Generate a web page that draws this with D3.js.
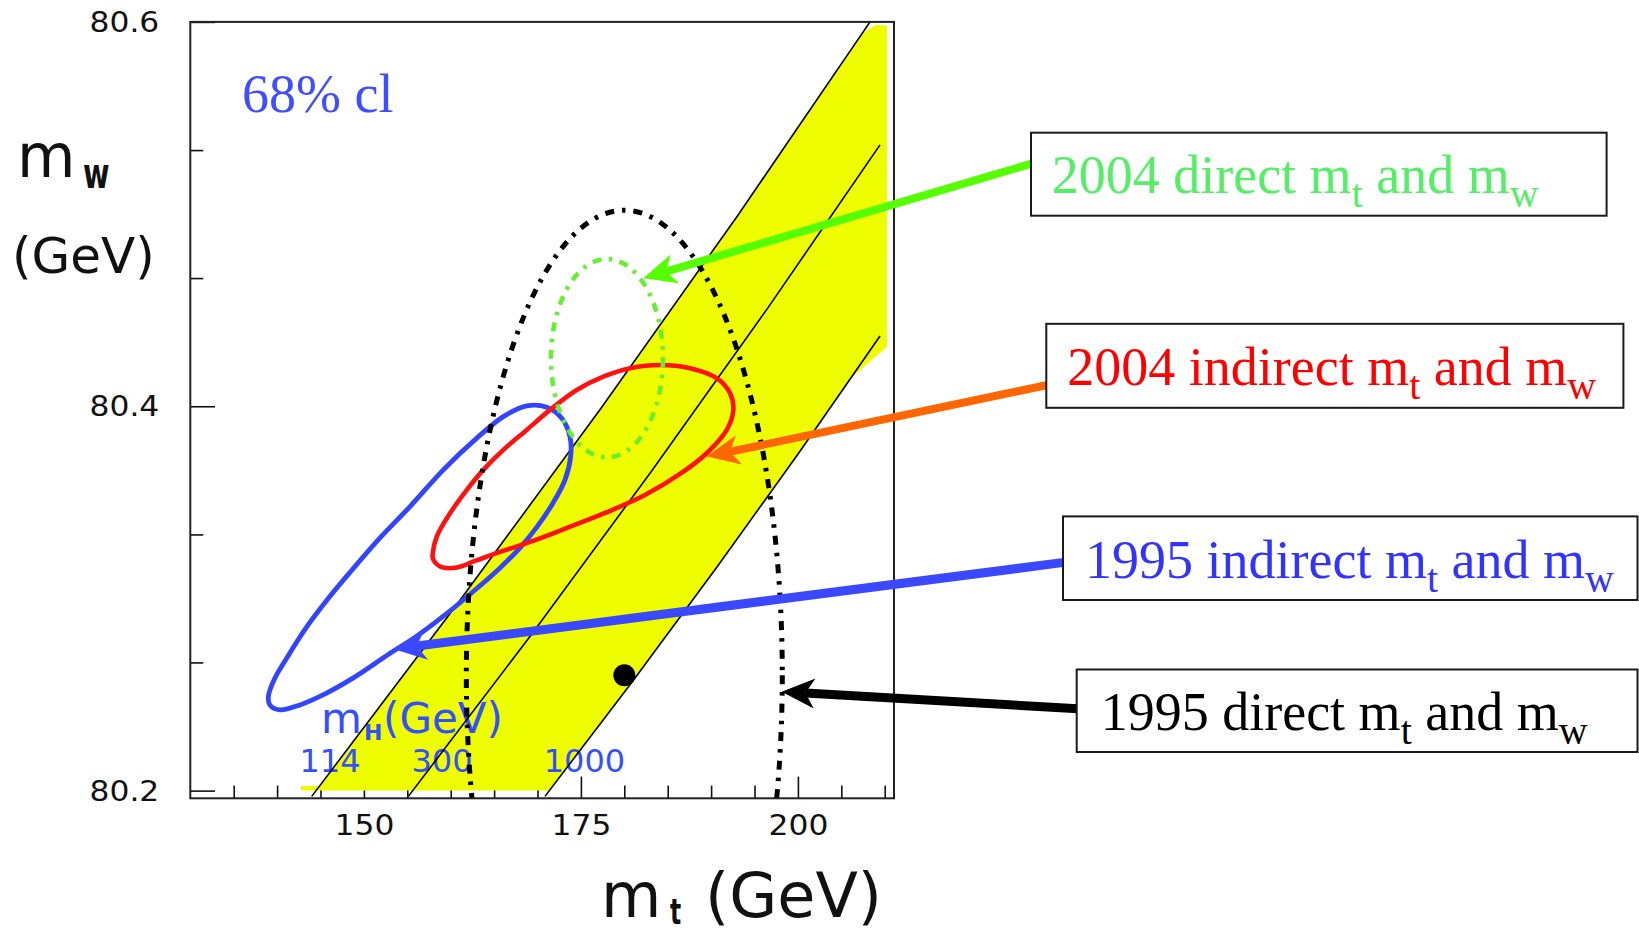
<!DOCTYPE html>
<html>
<head>
<meta charset="utf-8">
<script src="https://cdn.jsdelivr.net/npm/d3@7"></script>
<style>
  html, body { margin: 0; padding: 0; background: #fff; }
  svg { display: block; }
  text { white-space: pre; }
</style>
</head>
<body>
<svg id="chart" width="1639" height="934"></svg>
<script>
// ---- axis ticks ----
const yTickValues = [80.2, 80.4, 80.6];
const yTickLabels = ["80.2", "80.4", "80.6"];
const yMinorValues = [80.2667, 80.3333, 80.4667, 80.5333];
const xTickValues = [150, 175, 200];
const xTickLabels = ["150", "175", "200"];
const xMinorValues = [135, 140, 145, 155, 160, 165, 170, 180, 185, 190, 195, 205, 210];

// ---- SM prediction for fixed Higgs mass (m_t, m_W along each line) ----
const higgsMasses = [114, 300, 1000];
const higgsLineMt = [
  [143.99, 160.84, 177.19, 193.01, 208.31],
  [155.12, 169.37, 183.17, 196.54, 209.46],
  [170.86, 180.94, 190.74, 200.24, 209.46]
];
const higgsLineMw = [
  [80.197, 80.2976, 80.3982, 80.4989, 80.600],
  [80.197, 80.2816, 80.3664, 80.4512, 80.5360],
  [80.197, 80.2568, 80.3167, 80.3766, 80.4366]
];
const higgsLabelMt = [146.1, 159.0, 175.4];
const higgsLabelMw = [80.2097, 80.2097, 80.2097];

// ---- allowed SM band outline ----
const bandMt = [142.75, 142.75, 144.94, 160.84, 177.19, 193.01, 207.46, 209.0, 210.26, 210.26, 205.84, 200.24, 190.74, 180.94, 171.39];
const bandMw = [80.200, 80.2024, 80.2024, 80.2976, 80.3982, 80.4989, 80.5942, 80.5985, 80.598, 80.431, 80.4137, 80.3766, 80.3167, 80.2568, 80.200];

// ---- direct measurements: centre and 68% CL half-widths (m_t, m_W) ----
const direct1995Centre = [180.0, 80.26];
const direct1995Half = [18.2, 0.242];
const direct2004Centre = [178.0, 80.425];
const direct2004Half = [6.45, 0.0516];

// ---- indirect 68% CL contours ----
const indirect1995Mt = [138.99, 139.64, 141.26, 143.33, 145.75, 148.63, 151.85, 155.31, 159.15, 163.00, 166.06, 168.76, 171.06, 172.79, 173.74, 173.82, 173.17, 171.79, 169.94, 167.98, 165.68, 162.80, 159.34, 156.12, 152.89, 148.97, 145.29, 142.64, 140.33, 139.18];
const indirect1995Mw = [80.2489, 80.2576, 80.2701, 80.2847, 80.2992, 80.3148, 80.3315, 80.3478, 80.3669, 80.3834, 80.3946, 80.4002, 80.3995, 80.3938, 80.3842, 80.3738, 80.3617, 80.3497, 80.3372, 80.3263, 80.3159, 80.3044, 80.2914, 80.2805, 80.2711, 80.2592, 80.2498, 80.2446, 80.2420, 80.2445];

const indirect2004Mt = [157.93, 158.39, 159.92, 161.84, 163.76, 166.06, 168.76, 171.44, 174.52, 177.58, 180.66, 184.11, 187.57, 190.64, 192.18, 192.56, 191.80, 189.64, 186.76, 182.38, 177.78, 173.40, 169.14, 165.68, 162.80, 160.69, 158.88, 157.96];
const indirect2004Mw = [80.3235, 80.3322, 80.3443, 80.3564, 80.3669, 80.3773, 80.3877, 80.3981, 80.4085, 80.4154, 80.4198, 80.4215, 80.4198, 80.4146, 80.4068, 80.3981, 80.3877, 80.3762, 80.3658, 80.3538, 80.3445, 80.3367, 80.3294, 80.3242, 80.3195, 80.3161, 80.3164, 80.3206];

// ---- legend entries and the point each arrow points at ----
const legendYears = ["2004", "2004", "1995", "1995"];
const legendKinds = ["direct", "indirect", "indirect", "direct"];
const arrowTipMt = [182.18, 189.49, 153.39, 198.13];
const arrowTipMw = [80.4666, 80.3738, 80.2737, 80.2515];

// ---- layout and styles ----
const frame = { left: 190.3, right: 894, top: 21.9, bottom: 798.3 };
const legendBoxes = [
  { x: 1031,   y: 132.7, w: 575.6, h: 83,   tx: 1051.7, ty: 193.3, ay: 163.5 },
  { x: 1046.3, y: 323.8, w: 577.1, h: 84,   tx: 1067.3, ty: 385,   ay: 385 },
  { x: 1063,   y: 516.4, w: 574.5, h: 83.6, tx: 1085,   ty: 577.5, ay: 562.4 },
  { x: 1076.7, y: 669.5, w: 560.8, h: 82.5, tx: 1100.7, ty: 730,   ay: 708.7 }
];
const legendTextColors = ["#55ee66", "#ff0000", "#3333ff", "#000000"];
const arrowColors = ["#55ff00", "#ff6600", "#3a48ff", "#000000"];
const arrowWidths = [8, 8, 9, 9];
const bandColor = "#eefd00";
const sans = "'DejaVu Sans', Verdana, sans-serif";
const serif = "'Liberation Serif', 'Times New Roman', serif";

const svg = d3.select("#chart");
svg.append("rect").attr("width", 1639).attr("height", 934).attr("fill", "#fff");

const x = d3.scaleLinear().domain([130, 211.07]).range([frame.left, frame.right]);
const y = d3.scaleLinear().domain([80.196, 80.6]).range([frame.bottom, frame.top]);

svg.append("clipPath").attr("id", "plotClip")
  .append("rect")
  .attr("x", frame.left).attr("y", frame.top)
  .attr("width", frame.right - frame.left).attr("height", frame.bottom - frame.top);

// ---- axes (ticks point inwards) ----
const tickStyle = sel => sel.selectAll(".tick line").attr("stroke", "#111").attr("stroke-width", 1.6);

const yMinor = svg.append("g").attr("transform", `translate(${frame.left},0)`)
  .call(d3.axisLeft(y).tickValues(yMinorValues).tickSize(-13).tickFormat(""));
yMinor.select(".domain").remove();
tickStyle(yMinor);

const yMajor = svg.append("g").attr("transform", `translate(${frame.left},0)`)
  .call(d3.axisLeft(y).tickValues(yTickValues).tickSize(-24.7)
    .tickFormat((d, i) => yTickLabels[i]));
yMajor.select(".domain").remove();
tickStyle(yMajor);
yMajor.selectAll(".tick text")
  .attr("x", -31 / 1.12).attr("dy", "0.34em")
  .attr("transform", "scale(1.12,1)")
  .style("font-family", sans).style("font-size", "28px").attr("fill", "#111");

const xMinor = svg.append("g").attr("transform", `translate(0,${frame.bottom})`)
  .call(d3.axisBottom(x).tickValues(xMinorValues).tickSize(-12.7).tickFormat(""));
xMinor.select(".domain").remove();
tickStyle(xMinor);

const xMajor = svg.append("g").attr("transform", `translate(0,${frame.bottom})`)
  .call(d3.axisBottom(x).tickValues(xTickValues).tickSize(-21.7)
    .tickFormat((d, i) => xTickLabels[i]));
xMajor.select(".domain").remove();
tickStyle(xMajor);
xMajor.selectAll(".tick text")
  .attr("y", 36.7).attr("dy", 0)
  .attr("transform", "scale(1.12,1)")
  .style("font-family", sans).style("font-size", "28px").attr("fill", "#111");

// ---- plot content ----
const plotArea = svg.append("g").attr("clip-path", "url(#plotClip)");

// SM band
plotArea.append("path")
  .attr("d", d3.line().x((d, i) => x(bandMt[i])).y((d, i) => y(bandMw[i]))(bandMt) + "Z")
  .attr("fill", bandColor);

// Higgs mass labels
const hLabelColor = "#3350ff";
const mhTitle = plotArea.append("g").attr("fill", hLabelColor).style("font-family", sans);
mhTitle.append("text").attr("x", 321).attr("y", 733.3).style("font-size", "42px").text("m");
mhTitle.append("text").attr("x", 364).attr("y", 740).style("font-size", "22px").style("font-weight", "bold").text("H");
mhTitle.append("text").attr("x", 383).attr("y", 733.3).style("font-size", "42px").text("(GeV)");
plotArea.selectAll("text.mh").data(higgsMasses).join("text")
  .attr("class", "mh")
  .attr("x", (d, i) => x(higgsLabelMt[i]))
  .attr("y", (d, i) => y(higgsLabelMw[i]))
  .attr("text-anchor", "middle")
  .attr("fill", hLabelColor)
  .style("font-family", sans).style("font-size", "32px")
  .text(d => d);

// constant Higgs mass lines
plotArea.selectAll("path.mhline").data(higgsMasses).join("path")
  .attr("class", "mhline")
  .attr("d", (d, k) => d3.line().x((v, i) => x(higgsLineMt[k][i])).y((v, i) => y(higgsLineMw[k][i]))(higgsLineMt[k]))
  .attr("fill", "none").attr("stroke", "#000").attr("stroke-width", 1.6);

// indirect contours
const closed = d3.curveCatmullRomClosed.alpha(0.5);
plotArea.append("path")
  .attr("d", d3.line().x((d, i) => x(indirect1995Mt[i])).y((d, i) => y(indirect1995Mw[i])).curve(closed)(indirect1995Mt))
  .attr("fill", "none").attr("stroke", "#3344ff").attr("stroke-width", 4.8);
plotArea.append("path")
  .attr("d", d3.line().x((d, i) => x(indirect2004Mt[i])).y((d, i) => y(indirect2004Mw[i])).curve(closed)(indirect2004Mt))
  .attr("fill", "none").attr("stroke", "#ff1111").attr("stroke-width", 4.6);

// direct measurements
function directEllipse(c, h, colour, width, dash) {
  plotArea.append("ellipse")
    .attr("cx", x(c[0])).attr("cy", y(c[1]))
    .attr("rx", x(c[0] + h[0]) - x(c[0]))
    .attr("ry", y(c[1]) - y(c[1] + h[1]))
    .attr("fill", "none").attr("stroke", colour)
    .attr("stroke-width", width).attr("stroke-dasharray", dash);
}
directEllipse(direct1995Centre, direct1995Half, "#000", 5, "9,8,3.5,8");
directEllipse(direct2004Centre, direct2004Half, "#66ee33", 4.5, "9,7.5,3.5,7.5");

plotArea.append("circle")
  .attr("cx", x(direct1995Centre[0])).attr("cy", y(direct1995Centre[1]))
  .attr("r", 11).attr("fill", "#000");

// frame
svg.append("rect")
  .attr("x", frame.left).attr("y", frame.top)
  .attr("width", frame.right - frame.left).attr("height", frame.bottom - frame.top)
  .attr("fill", "none").attr("stroke", "#222").attr("stroke-width", 2);

// ---- annotation text ----
svg.append("text").attr("x", 242).attr("y", 111.7)
  .attr("fill", "#3f4fff").style("font-family", serif).style("font-size", "54px")
  .text("68% cl");

// axis titles
svg.append("text").attr("x", 17).attr("y", 176.7)
  .style("font-family", sans).style("font-size", "60px").attr("fill", "#111").text("m");
svg.append("text").attr("transform", "translate(83,188) scale(0.9,1.35)")
  .style("font-family", sans).style("font-size", "32px").style("font-weight", "bold").attr("fill", "#111").text("w");
svg.append("text").attr("x", 12).attr("y", 273.3)
  .style("font-family", sans).style("font-size", "50px").attr("fill", "#111").text("(GeV)");

svg.append("text").attr("x", 601).attr("y", 917)
  .style("font-family", sans).style("font-size", "62px").attr("fill", "#111").text("m");
svg.append("text").attr("transform", "translate(670,924) scale(0.9,1.35)")
  .style("font-family", sans).style("font-size", "26px").style("font-weight", "bold").attr("fill", "#111").text("t");
svg.append("text").attr("x", 705).attr("y", 917)
  .style("font-family", sans).style("font-size", "62px").attr("fill", "#111").text("(GeV)");

// ---- arrows from legend boxes ----
function arrow(tipX, tipY, fromX, fromY, colour, width) {
  const dx = fromX - tipX, dy = fromY - tipY, len = Math.hypot(dx, dy);
  const ux = dx / len, uy = dy / len, nx = -uy, ny = ux;
  const L = 33, hw = 15, notch = 0.72;
  svg.append("line")
    .attr("x1", tipX + ux * L * notch).attr("y1", tipY + uy * L * notch)
    .attr("x2", fromX).attr("y2", fromY)
    .attr("stroke", colour).attr("stroke-width", width);
  const pts = [
    [tipX, tipY],
    [tipX + ux * L + nx * hw, tipY + uy * L + ny * hw],
    [tipX + ux * L * notch, tipY + uy * L * notch],
    [tipX + ux * L - nx * hw, tipY + uy * L - ny * hw]
  ];
  svg.append("polygon").attr("points", pts.map(p => p.join(",")).join(" ")).attr("fill", colour);
}
legendBoxes.forEach((b, i) => {
  arrow(x(arrowTipMt[i]), y(arrowTipMw[i]), b.x + 1, b.ay, arrowColors[i], arrowWidths[i]);
});

// ---- legend boxes ----
legendBoxes.forEach((b, i) => {
  svg.append("rect").attr("x", b.x).attr("y", b.y).attr("width", b.w).attr("height", b.h)
    .attr("fill", "#fff").attr("stroke", "#1a1a1a").attr("stroke-width", 2);
  const t = svg.append("text").attr("x", b.tx).attr("y", b.ty)
    .attr("fill", legendTextColors[i]).style("font-family", serif).style("font-size", "54px");
  t.append("tspan").text(`${legendYears[i]} ${legendKinds[i]} m`);
  t.append("tspan").attr("dy", 14).style("font-size", "40px").text("t");
  t.append("tspan").attr("dy", -14).text(" and m");
  t.append("tspan").attr("dy", 14).style("font-size", "40px").text("w");
});
</script>
</body>
</html>
